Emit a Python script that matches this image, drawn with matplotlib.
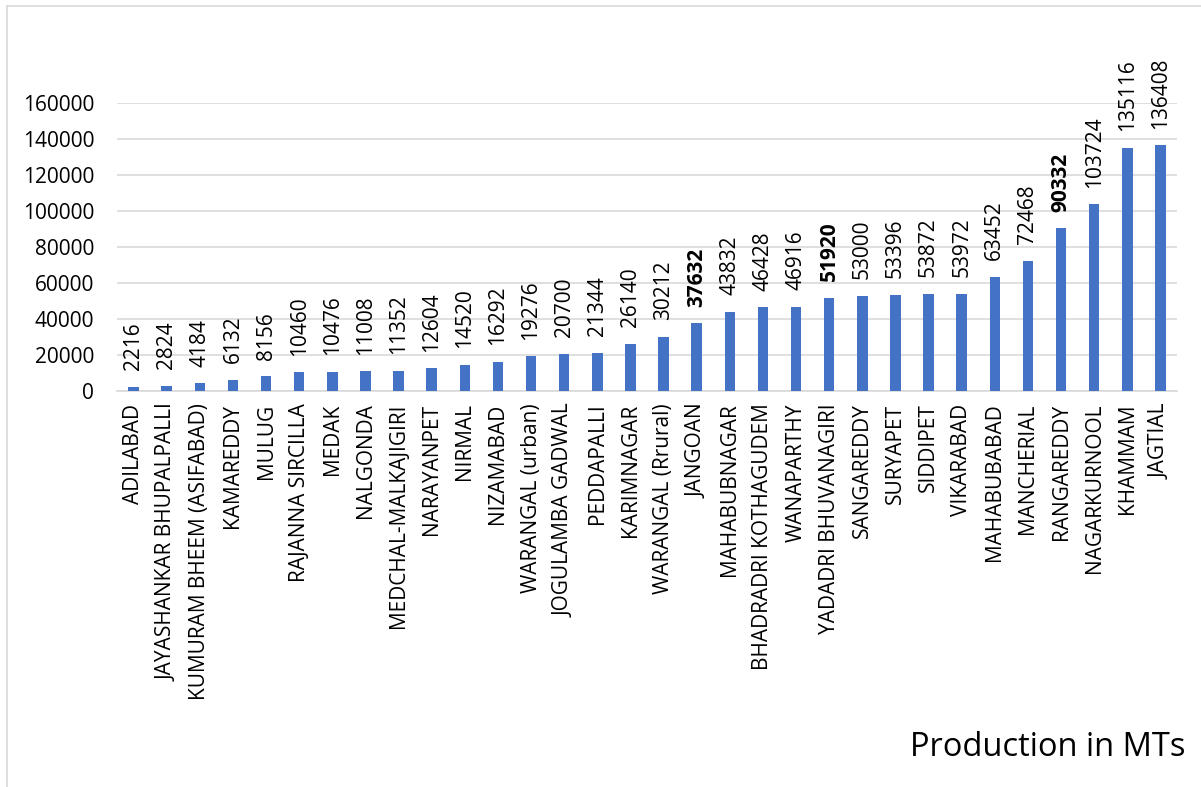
import matplotlib.pyplot as plt
from matplotlib.lines import Line2D

districts = [
    "ADILABAD", "JAYASHANKAR BHUPALPALLI", "KUMURAM BHEEM (ASIFABAD)", "KAMAREDDY",
    "MULUG", "RAJANNA SIRCILLA", "MEDAK", "NALGONDA", "MEDCHAL-MALKAJIGIRI",
    "NARAYANPET", "NIRMAL", "NIZAMABAD", "WARANGAL (urban)", "JOGULAMBA GADWAL",
    "PEDDAPALLI", "KARIMNAGAR", "WARANGAL (Rrural)", "JANGOAN", "MAHABUBNAGAR",
    "BHADRADRI KOTHAGUDEM", "WANAPARTHY", "YADADRI BHUVANAGIRI", "SANGAREDDY",
    "SURYAPET", "SIDDIPET", "VIKARABAD", "MAHABUBABAD", "MANCHERIAL",
    "RANGAREDDY", "NAGARKURNOOL", "KHAMMAM", "JAGTIAL",
]
production = [
    2216, 2824, 4184, 6132, 8156, 10460, 10476, 11008, 11352, 12604, 14520,
    16292, 19276, 20700, 21344, 26140, 30212, 37632, 43832, 46428, 46916,
    51920, 53000, 53396, 53872, 53972, 63452, 72468, 90332, 103724, 135116,
    136408,
]
bold_labels = {"JANGOAN", "YADADRI BHUVANAGIRI", "RANGAREDDY"}
y_ticks = [0, 20000, 40000, 60000, 80000, 100000, 120000, 140000, 160000]

plt.rcParams["font.family"] = ["Open Sans", "DejaVu Sans"]

fig = plt.figure(figsize=(12.01, 7.87), dpi=100)
ax = fig.add_axes([117 / 1201, 1 - 391 / 787, (1177 - 117) / 1201, (391 - 103) / 787])

x = list(range(len(districts)))
ax.bar(x, production, width=0.32, color="#4472C4", zorder=3)

for xi, name, val in zip(x, districts, production):
    ax.annotate(str(val), xy=(xi, val), xytext=(0, 12), textcoords="offset points",
                rotation=90, ha="center", va="bottom", fontsize=15, color="#000000",
                fontweight="bold" if name in bold_labels else "normal",
                annotation_clip=False)

ax.set_xlim(-0.5, len(districts) - 0.5)
ax.set_ylim(0, 160000)
ax.set_yticks(y_ticks)
ax.set_yticklabels([str(v) for v in y_ticks], fontsize=15)
ax.set_xticks(x)
ax.set_xticklabels(districts, rotation=90, fontsize=15)
ax.tick_params(axis="both", length=0, colors="#000000")
ax.tick_params(axis="x", pad=9)
ax.tick_params(axis="y", pad=16.5)

ax.grid(axis="y", color="#d9d9d9", linewidth=1.2, zorder=0)
for side in ("top", "right", "left"):
    ax.spines[side].set_visible(False)
ax.spines["bottom"].set_color("#d9d9d9")
ax.spines["bottom"].set_linewidth(1.2)

fig.text(1185 / 1201, 1 - 748 / 787, "Production in MTs", ha="right", va="center",
         fontsize=23.5, color="#000000")

# chart frame edges
fig.add_artist(Line2D([6.5 / 1201, 6.5 / 1201], [0, 1 - 5.5 / 787],
                      transform=fig.transFigure, color="#d9d9d9", linewidth=1.2))
fig.add_artist(Line2D([6.5 / 1201, 1], [1 - 5.5 / 787, 1 - 5.5 / 787],
                      transform=fig.transFigure, color="#d9d9d9", linewidth=1.2))

fig.savefig("out.png", dpi=100, facecolor="white")
